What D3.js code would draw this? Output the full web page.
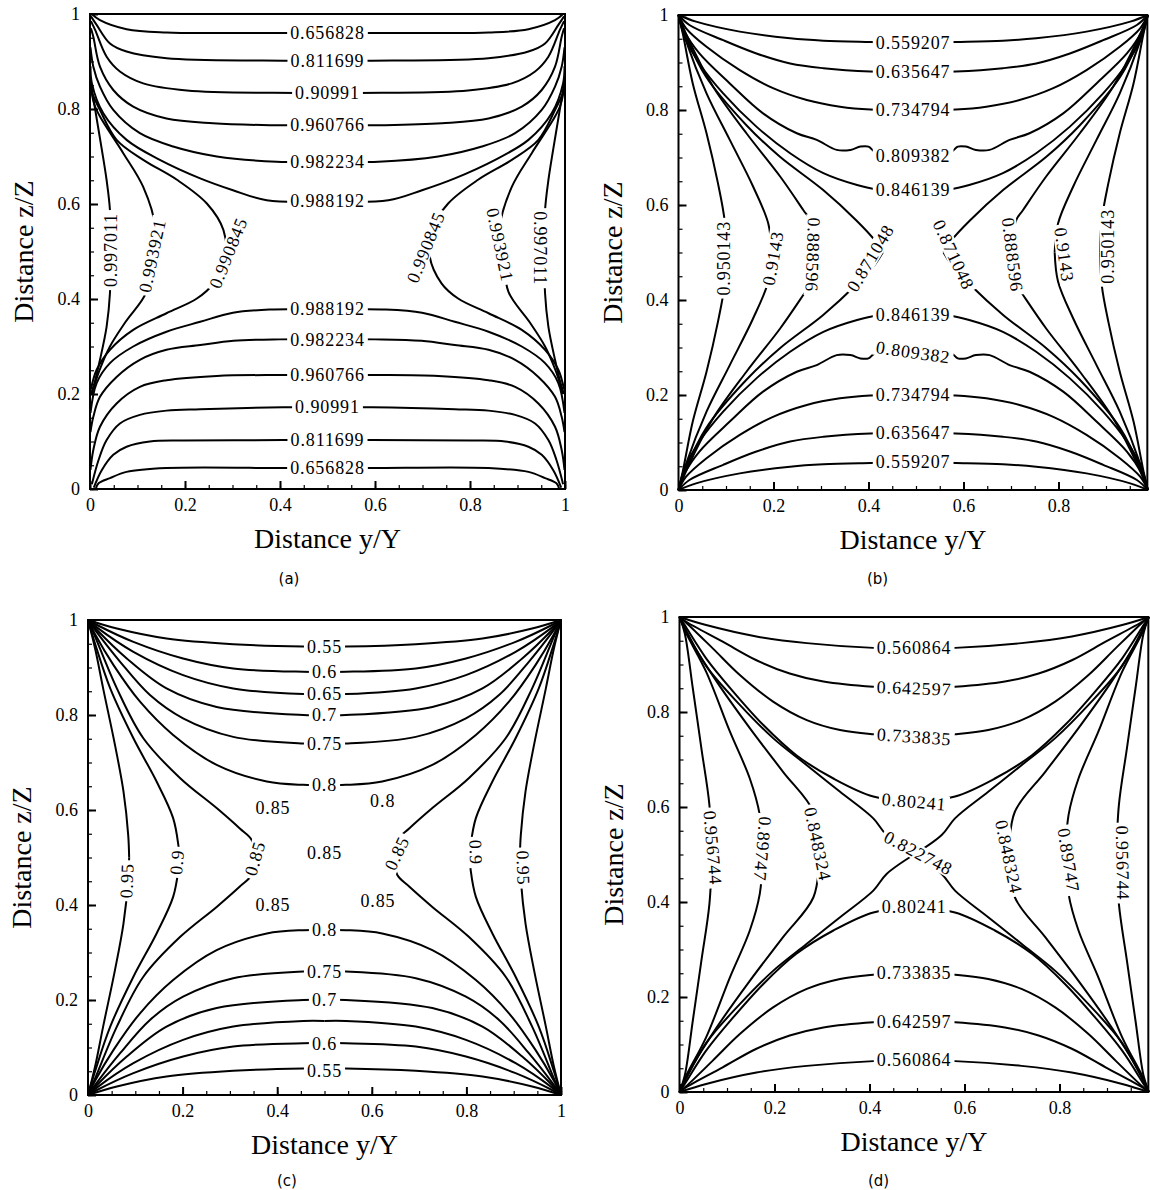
<!DOCTYPE html>
<html>
<head>
<meta charset="utf-8">
<script src="https://cdn.jsdelivr.net/npm/d3@7"></script>
<style>
  body { margin: 0; background: #fff; }
  svg { display: block; }
  text { font-family: "Liberation Serif", "Times New Roman", serif; fill: #000; }
  .tick text { font-family: "Liberation Serif", "Times New Roman", serif !important; font-size: 18px; }
</style>
</head>
<body>
<svg id="fig" width="1150" height="1190"></svg>
<script>
// tick values / labels
var zTicks = [0, 0.2, 0.4, 0.6, 0.8, 1];
var zTickLabels = ["0", "0.2", "0.4", "0.6", "0.8", "1"];
var yTicksFull = [0, 0.2, 0.4, 0.6, 0.8, 1];
var yTicksShort = [0, 0.2, 0.4, 0.6, 0.8];

// contour lines, [y/Y, z/Z] points. (a): left half, full height.
var aLines = [
  {v: "0.656828", pts: [[0.004,1.0],[0.021,0.987],[0.077,0.968],[0.161,0.961],[0.3,0.960],[0.5,0.960]]},
  {v: "0.811699", pts: [[0.002,0.995],[0.014,0.977],[0.042,0.938],[0.077,0.921],[0.161,0.907],[0.364,0.902],[0.5,0.902]]},
  {v: "0.90991",  pts: [[0.002,0.985],[0.011,0.966],[0.035,0.910],[0.063,0.879],[0.112,0.854],[0.204,0.839],[0.385,0.834],[0.5,0.834]]},
  {v: "0.960766", pts: [[0.002,0.97],[0.007,0.952],[0.021,0.889],[0.049,0.84],[0.091,0.805],[0.161,0.780],[0.259,0.770],[0.379,0.766],[0.5,0.766]]},
  {v: "0.982234", pts: [[0.001,0.93],[0.007,0.889],[0.021,0.847],[0.049,0.798],[0.105,0.749],[0.175,0.721],[0.267,0.700],[0.393,0.689],[0.5,0.689]]},
  {v: "0.988192", pts: [[0.001,0.89],[0.004,0.854],[0.028,0.791],[0.077,0.735],[0.147,0.693],[0.232,0.654],[0.301,0.629],[0.372,0.608],[0.5,0.606]]},
  {v: "0.990845", pts: [[0.001,0.84],[0.02,0.80],[0.056,0.735],[0.112,0.693],[0.183,0.651],[0.246,0.601],[0.281,0.545],[0.285,0.49],[0.26,0.433],[0.225,0.401],[0.161,0.37],[0.091,0.335],[0.042,0.293],[0.014,0.251],[0.002,0.21]]},
  {v: "0.993921", pts: [[0.001,0.85],[0.009,0.81],[0.021,0.784],[0.070,0.707],[0.112,0.636],[0.137,0.552],[0.13,0.49],[0.119,0.415],[0.075,0.352],[0.042,0.30],[0.02,0.25],[0.004,0.2]]},
  {v: "0.997011", pts: [[0.001,0.86],[0.011,0.798],[0.025,0.714],[0.035,0.650],[0.042,0.587],[0.043,0.5],[0.042,0.412],[0.035,0.342],[0.021,0.272],[0.01,0.225],[0.002,0.2]]},
  {v: "0.988192", pts: [[0.001,0.16],[0.014,0.223],[0.042,0.265],[0.091,0.300],[0.161,0.331],[0.232,0.352],[0.301,0.371],[0.386,0.378],[0.5,0.379]]},
  {v: "0.982234", pts: [[0.001,0.12],[0.007,0.152],[0.021,0.194],[0.056,0.236],[0.105,0.272],[0.161,0.293],[0.232,0.303],[0.302,0.312],[0.4,0.315],[0.5,0.315]]},
  {v: "0.960766", pts: [[0.001,0.04],[0.007,0.082],[0.021,0.131],[0.056,0.180],[0.105,0.215],[0.161,0.229],[0.267,0.238],[0.4,0.24],[0.5,0.24]]},
  {v: "0.90991",  pts: [[0.004,0.01],[0.018,0.061],[0.035,0.103],[0.063,0.138],[0.105,0.156],[0.161,0.165],[0.232,0.168],[0.406,0.172],[0.5,0.172]]},
  {v: "0.811699", pts: [[0.008,0.003],[0.025,0.04],[0.049,0.072],[0.077,0.089],[0.126,0.1],[0.196,0.102],[0.406,0.103],[0.5,0.103]]},
  {v: "0.656828", pts: [[0.012,0.0],[0.018,0.012],[0.042,0.023],[0.077,0.036],[0.161,0.044],[0.406,0.044],[0.5,0.044]]}
];
// label: [y, z, angle, text]
var aLabels = [
  [0.5,0.960,0,"0.656828"],[0.5,0.902,0,"0.811699"],[0.5,0.834,0,"0.90991"],
  [0.5,0.766,0,"0.960766"],[0.5,0.689,0,"0.982234"],[0.5,0.606,0,"0.988192"],
  [0.5,0.044,0,"0.656828"],[0.5,0.103,0,"0.811699"],[0.5,0.172,0,"0.90991"],
  [0.5,0.24,0,"0.960766"],[0.5,0.315,0,"0.982234"],[0.5,0.379,0,"0.988192"],
  [0.043,0.503,-90,"0.997011"],[0.131,0.491,-78,"0.993921"],[0.291,0.497,-68,"0.990845"],
  [0.947,0.507,90,"0.997011"],[0.863,0.514,78,"0.993921"],[0.707,0.509,-68,"0.990845"]
];

// (b), (c), (d): upper-left quarter, mirrored
var bLines = [
  {v: "0.559207", pts: [[0,1],[0.037,0.986],[0.129,0.965],[0.235,0.951],[0.305,0.946],[0.404,0.943],[0.494,0.941]]},
  {v: "0.635647", pts: [[0,1],[0.023,0.979],[0.094,0.947],[0.164,0.919],[0.235,0.898],[0.305,0.888],[0.404,0.881],[0.494,0.880]]},
  {v: "0.734794", pts: [[0,1],[0.016,0.972],[0.059,0.933],[0.129,0.884],[0.199,0.846],[0.270,0.821],[0.340,0.807],[0.404,0.801],[0.494,0.8]]},
  {v: "0.809382", pts: [[0,1],[0.013,0.965],[0.044,0.919],[0.108,0.856],[0.178,0.793],[0.249,0.751],[0.291,0.737],[0.333,0.716],[0.362,0.716],[0.383,0.723],[0.400,0.723],[0.414,0.712],[0.494,0.703]]},
  {v: "0.846139", pts: [[0,1],[0.013,0.954],[0.044,0.898],[0.094,0.835],[0.164,0.765],[0.235,0.709],[0.305,0.667],[0.376,0.642],[0.418,0.633],[0.494,0.632]]},
  {v: "0.871048", pts: [[0,1],[0.016,0.954],[0.058,0.87],[0.143,0.768],[0.213,0.702],[0.304,0.632],[0.374,0.568],[0.413,0.526],[0.43,0.5]]},
  {v: "0.888596", pts: [[0,1],[0.020,0.951],[0.073,0.849],[0.143,0.751],[0.214,0.660],[0.263,0.589],[0.277,0.568],[0.285,0.5]]},
  {v: "0.9143",   pts: [[0,1],[0.016,0.945],[0.059,0.835],[0.108,0.737],[0.157,0.639],[0.189,0.561],[0.196,0.5]]},
  {v: "0.950143", pts: [[0,1],[0.009,0.961],[0.030,0.856],[0.059,0.751],[0.083,0.646],[0.097,0.568],[0.1,0.5]]}
];
var bLabels = [
  [0.494,0.941,0,"0.559207"],[0.494,0.880,0,"0.635647"],[0.494,0.8,0,"0.734794"],
  [0.494,0.703,0,"0.809382"],[0.494,0.632,0,"0.846139"],
  [0.494,0.059,0,"0.559207"],[0.494,0.12,0,"0.635647"],[0.494,0.2,0,"0.734794"],
  [0.494,0.29,8,"0.809382"],[0.494,0.368,0,"0.846139"],
  [0.095,0.488,-90,"0.950143"],[0.199,0.488,-80,"0.9143"],[0.283,0.495,92,"0.888596"],[0.404,0.488,-59,"0.871048"],
  [0.904,0.513,-90,"0.950143"],[0.812,0.495,82,"0.9143"],[0.703,0.495,83,"0.888596"],[0.579,0.495,65,"0.871048"]
];

var cLines = [
  {v: "0.55", pts: [[0,1],[0.061,0.982],[0.166,0.961],[0.307,0.949],[0.455,0.944],[0.5,0.944]]},
  {v: "0.6",  pts: [[0,1],[0.018,0.99],[0.096,0.954],[0.201,0.919],[0.307,0.898],[0.455,0.891],[0.5,0.891]]},
  {v: "0.65", pts: [[0,1],[0.018,0.985],[0.096,0.933],[0.201,0.884],[0.307,0.856],[0.455,0.844],[0.5,0.844]]},
  {v: "0.7",  pts: [[0,1],[0.018,0.98],[0.082,0.919],[0.166,0.856],[0.272,0.817],[0.455,0.8],[0.5,0.8]]},
  {v: "0.75", pts: [[0,1],[0.018,0.975],[0.068,0.912],[0.131,0.842],[0.201,0.793],[0.307,0.754],[0.455,0.740],[0.5,0.740]]},
  {v: "0.8",  pts: [[0,1],[0.015,0.970],[0.054,0.905],[0.110,0.828],[0.180,0.758],[0.272,0.695],[0.378,0.660],[0.455,0.653],[0.5,0.653]]},
  {v: "0.85", pts: [[0,1],[0.015,0.965],[0.061,0.856],[0.117,0.751],[0.195,0.667],[0.272,0.604],[0.321,0.561],[0.346,0.537],[0.352,0.5]]},
  {v: "0.9",  pts: [[0,1],[0.015,0.95],[0.047,0.856],[0.096,0.751],[0.145,0.660],[0.180,0.583],[0.191,0.526],[0.193,0.5]]},
  {v: "0.95", pts: [[0,1],[0.015,0.94],[0.032,0.856],[0.057,0.737],[0.075,0.639],[0.085,0.547],[0.087,0.5]]}
];
var cLabels = [
  [0.5,0.944,0,"0.55"],[0.5,0.891,0,"0.6"],[0.5,0.844,0,"0.65"],[0.5,0.8,0,"0.7"],[0.5,0.740,0,"0.75"],[0.5,0.653,0,"0.8"],
  [0.5,0.05,0,"0.55"],[0.5,0.107,0,"0.6"],[0.5,0.2,0,"0.7"],[0.5,0.26,0,"0.75"],[0.5,0.347,0,"0.8"],
  [0.082,0.451,-88,"0.95"],[0.188,0.49,-85,"0.9"],[0.353,0.498,-74,"0.85"],
  [0.653,0.509,-65,"0.85"],[0.82,0.511,88,"0.9"],[0.92,0.478,88,"0.95"],
  [0.391,0.604,0,"0.85"],[0.5,0.51,0,"0.85"],[0.623,0.619,0,"0.8"],[0.391,0.4,0,"0.85"],[0.613,0.408,0,"0.85"]
];

var dLines = [
  {v: "0.560864", pts: [[0,1],[0.056,0.983],[0.162,0.959],[0.268,0.945],[0.408,0.935],[0.494,0.934]]},
  {v: "0.642597", pts: [[0,1],[0.014,0.990],[0.091,0.948],[0.162,0.909],[0.232,0.881],[0.303,0.864],[0.408,0.853],[0.494,0.85]]},
  {v: "0.733835", pts: [[0,1],[0.014,0.988],[0.070,0.934],[0.127,0.878],[0.197,0.822],[0.268,0.783],[0.338,0.762],[0.408,0.753],[0.494,0.748]]},
  {v: "0.80241",  pts: [[0,1],[0.011,0.983],[0.056,0.913],[0.113,0.843],[0.176,0.773],[0.246,0.709],[0.324,0.660],[0.408,0.622],[0.494,0.611]]},
  {v: "0.822748", pts: [[0,1],[0.011,0.978],[0.056,0.897],[0.127,0.815],[0.197,0.745],[0.268,0.688],[0.338,0.632],[0.408,0.576],[0.436,0.541],[0.494,0.5]]},
  {v: "0.848324", pts: [[0,1],[0.014,0.968],[0.077,0.866],[0.148,0.766],[0.218,0.674],[0.282,0.590],[0.295,0.5]]},
  {v: "0.89747",  pts: [[0,1],[0.014,0.966],[0.056,0.885],[0.106,0.759],[0.148,0.660],[0.169,0.583],[0.175,0.5]]},
  {v: "0.956744", pts: [[0,1],[0.011,0.966],[0.028,0.850],[0.046,0.724],[0.063,0.604],[0.068,0.5]]}
];
var dLabels = [
  [0.494,0.934,0,"0.560864"],[0.494,0.85,2,"0.642597"],[0.494,0.748,4,"0.733835"],[0.494,0.611,5,"0.80241"],
  [0.494,0.067,0,"0.560864"],[0.494,0.148,0,"0.642597"],[0.494,0.25,0,"0.733835"],[0.494,0.39,0,"0.80241"],
  [0.07,0.514,85,"0.956744"],[0.175,0.512,95,"0.89747"],[0.291,0.522,78,"0.848324"],
  [0.933,0.482,89,"0.956744"],[0.819,0.488,81,"0.89747"],[0.693,0.495,78,"0.848324"],
  [0.503,0.503,28,"0.822748"]
];

var panels = [
  {cap: "(a)", left: 90,    top: 14,  bottom: 489,  unit: 475, yMax: 1,     cy: 0.5,   mirrorZ: false, lines: aLines, labels: aLabels, yTicks: yTicksFull,  capY: 584},
  {cap: "(b)", left: 678.5, top: 15,  bottom: 490,  unit: 475, yMax: 0.987, cy: 0.494, mirrorZ: true,  lines: bLines, labels: bLabels, yTicks: yTicksShort, capY: 584},
  {cap: "(c)", left: 88,    top: 620, bottom: 1095, unit: 473, yMax: 1,     cy: 0.5,   mirrorZ: true,  lines: cLines, labels: cLabels, yTicks: yTicksFull,  capY: 1186},
  {cap: "(d)", left: 679.5, top: 617, bottom: 1092, unit: 475, yMax: 0.987, cy: 0.494, mirrorZ: true,  lines: dLines, labels: dLabels, yTicks: yTicksShort, capY: 1186}
];

var serif = "'Liberation Serif', 'Times New Roman', serif";
var svg = d3.select("#fig");

panels.forEach(function(p) {
    var right = p.left + p.yMax * p.unit;
    var x = d3.scaleLinear().domain([0, p.yMax]).range([p.left, right]);
    var z = d3.scaleLinear().domain([0, 1]).range([p.bottom, p.top]);
    var g = svg.append("g");

    var line = d3.line()
        .x(function(d) { return x(d[0]); })
        .y(function(d) { return z(d[1]); })
        .curve(d3.curveCatmullRom.alpha(0.5));

    // build mirrored arms
    var arms = [];
    p.lines.forEach(function(l) {
        var mY = l.pts.map(function(d) { return [2 * p.cy - d[0], d[1]]; });
        arms.push(l.pts, mY);
        if (p.mirrorZ) {
            arms.push(l.pts.map(function(d) { return [d[0], 1 - d[1]]; }));
            arms.push(mY.map(function(d) { return [d[0], 1 - d[1]]; }));
        }
    });

    g.append("g").selectAll("path")
        .data(arms)
        .join("path")
        .attr("d", line)
        .attr("fill", "none")
        .attr("stroke", "#000")
        .attr("stroke-width", 2)
        .attr("stroke-linejoin", "round");

    // contour labels
    var lab = g.append("g").selectAll("g")
        .data(p.labels)
        .join("g")
        .attr("transform", function(d) {
            return "translate(" + x(d[0]) + "," + z(d[1]) + ") rotate(" + d[2] + ")";
        });
    lab.append("rect").attr("fill", "#fff");
    lab.append("text")
        .attr("text-anchor", "middle")
        .attr("dy", "0.34em")
        .style("font-size", "18px")
        .style("letter-spacing", "0.9px")
        .text(function(d) { return d[3]; });
    lab.each(function() {
        var grp = d3.select(this);
        var bb = grp.select("text").node().getBBox();
        grp.select("rect")
            .attr("x", bb.x - 3).attr("y", -8)
            .attr("width", bb.width + 6).attr("height", 16);
    });

    function styleAxis(s, w) {
        s.attr("font-family", serif);
        s.select(".domain").remove();
        s.selectAll("line").attr("stroke-width", w);
        s.selectAll("text").style("font-size", "18px").style("font-family", serif);
    }

    // minor ticks
    var minorY = d3.range(0, p.yMax + 0.001, 0.05);
    var minorZ = d3.range(0, 1.001, 0.05);
    g.append("g").attr("transform", "translate(0," + p.bottom + ")")
        .call(d3.axisBottom(x).tickValues(minorY).tickSize(-4).tickFormat(""))
        .call(styleAxis, 1.2);
    g.append("g").attr("transform", "translate(" + p.left + ",0)")
        .call(d3.axisLeft(z).tickValues(minorZ).tickSize(-4).tickFormat(""))
        .call(styleAxis, 1.2);

    // major ticks
    g.append("g").attr("transform", "translate(0," + p.bottom + ")")
        .call(d3.axisBottom(x).tickValues(p.yTicks).tickSize(-8).tickPadding(9)
            .tickFormat(function(d, i) { return zTickLabels[i]; }))
        .call(styleAxis, 2);
    g.append("g").attr("transform", "translate(" + p.left + ",0)")
        .call(d3.axisLeft(z).tickValues(zTicks).tickSize(-8).tickPadding(10)
            .tickFormat(function(d, i) { return zTickLabels[i]; }))
        .call(styleAxis, 2);

    // frame
    g.append("rect")
        .attr("x", p.left).attr("y", p.top)
        .attr("width", right - p.left).attr("height", p.bottom - p.top)
        .attr("fill", "none").attr("stroke", "#000").attr("stroke-width", 2);

    // axis titles
    g.append("text")
        .attr("x", (p.left + right) / 2).attr("y", p.bottom + 59)
        .attr("text-anchor", "middle")
        .style("font-size", "28px")
        .text("Distance y/Y");
    g.append("text")
        .attr("transform", "translate(" + (p.left - 57) + "," + (p.top + p.bottom) / 2 + ") rotate(-90)")
        .attr("text-anchor", "middle")
        .style("font-size", "28px")
        .text("Distance z/Z");

    // caption
    g.append("text")
        .attr("x", p.left + 199).attr("y", p.capY)
        .attr("text-anchor", "middle")
        .style("font-family", "'DejaVu Sans', sans-serif")
        .style("font-size", "15px")
        .text(p.cap);
});
</script>
</body>
</html>
